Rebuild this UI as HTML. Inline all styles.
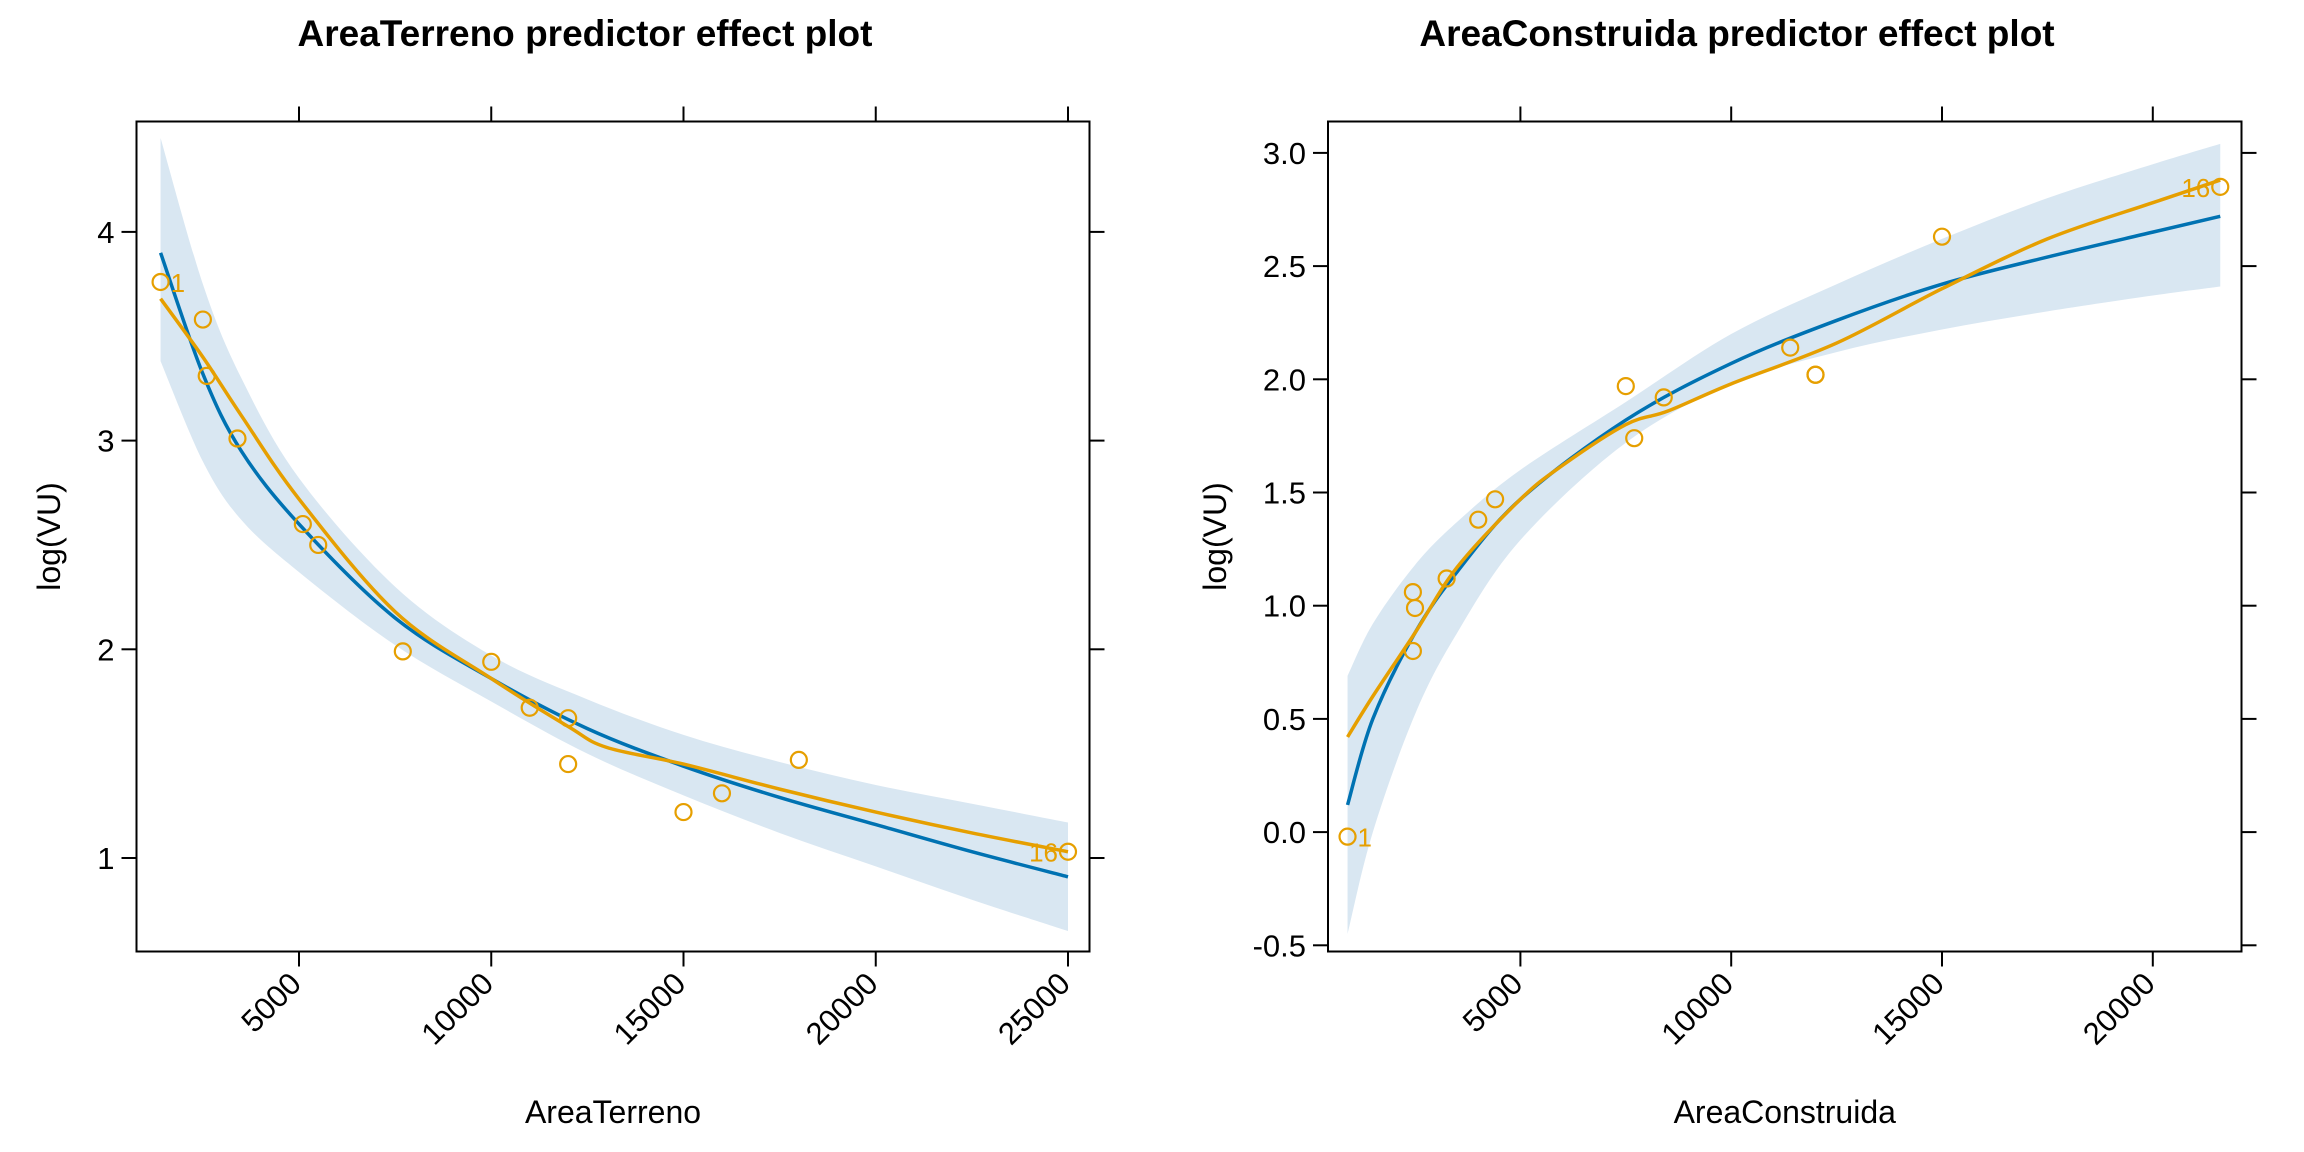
<!DOCTYPE html>
<html><head><meta charset="utf-8"><style>
html,body{margin:0;padding:0;background:#fff;}
svg{display:block;font-family:"Liberation Sans",Arial,sans-serif;}
</style></head><body>
<svg id="chart" width="2304" height="1152" viewBox="0 0 2304 1152"></svg>
<script>
// ---- Panel 1 data: AreaTerreno ----
const terrenoX = [1400,2500,3500,5000,7500,10000,12500,15000,17500,20000,22500,25000];
const terrenoFit = [3.9,3.32,2.95,2.6,2.15,1.86,1.62,1.44,1.29,1.16,1.03,0.91];
const terrenoUpper = [4.45,3.75,3.3,2.82,2.3,1.97,1.76,1.59,1.46,1.35,1.26,1.17];
const terrenoLower = [3.38,2.9,2.62,2.37,2.02,1.75,1.5,1.3,1.12,0.96,0.8,0.65];
const terrenoSmoothX = [1400,2500,3500,5000,7500,10000,12000,13000,15000,17500,20000,22500,25000];
const terrenoSmoothY = [3.68,3.4,3.12,2.72,2.18,1.86,1.63,1.53,1.45,1.33,1.22,1.12,1.03];
const terrenoPtsX = [1400,2500,2600,3400,5100,5500,7700,10000,11000,12000,12000,15000,16000,18000,25000];
const terrenoPtsY = [3.76,3.58,3.31,3.01,2.6,2.5,1.99,1.94,1.72,1.67,1.45,1.22,1.31,1.47,1.03];
const terrenoXTicks = [5000,10000,15000,20000,25000];
const terrenoYTicks = [1,2,3,4];
const terrenoYTickLabels = ["1","2","3","4"];
// ---- Panel 2 data: AreaConstruida ----
const construidaX = [900,1500,2500,3500,5000,7500,10000,12500,15000,17500,20000,21600];
const construidaFit = [0.12,0.5,0.88,1.15,1.47,1.82,2.07,2.26,2.42,2.54,2.65,2.72];
const construidaUpper = [0.69,0.92,1.18,1.37,1.6,1.9,2.2,2.42,2.62,2.8,2.95,3.04];
const construidaLower = [-0.45,0.0,0.52,0.88,1.29,1.72,1.98,2.12,2.22,2.3,2.37,2.41];
const construidaSmoothX = [900,1500,2500,3500,5000,6000,7500,8500,10000,12500,15000,17500,20000,21600];
const construidaSmoothY = [0.42,0.6,0.88,1.17,1.47,1.62,1.8,1.86,1.98,2.16,2.4,2.62,2.78,2.88];
const construidaPtsX = [900,2450,2500,2450,3250,4000,4400,7500,7700,8400,11400,12000,12000,15000,21600];
const construidaPtsY = [-0.02,1.06,0.99,0.8,1.12,1.38,1.47,1.97,1.74,1.92,2.14,2.02,2.02,2.63,2.85];
const construidaXTicks = [5000,10000,15000,20000];
const construidaYTicks = [-0.5,0,0.5,1,1.5,2,2.5,3];
const construidaYTickLabels = ["-0.5","0.0","0.5","1.0","1.5","2.0","2.5","3.0"];

const NS = "http://www.w3.org/2000/svg";
const svg = document.getElementById("chart");
function el(tag, attrs, parent){const e=document.createElementNS(NS,tag);for(const k in attrs)e.setAttribute(k,attrs[k]);(parent||svg).appendChild(e);return e;}
// Catmull-Rom smoothing through screen points
function smoothPath(pts, move){
  let d = (move?"M":"L")+pts[0][0]+","+pts[0][1];
  for(let i=0;i<pts.length-1;i++){
    const p0=pts[Math.max(0,i-1)],p1=pts[i],p2=pts[i+1],p3=pts[Math.min(pts.length-1,i+2)];
    const c1=[p1[0]+(p2[0]-p0[0])/6,p1[1]+(p2[1]-p0[1])/6];
    const c2=[p2[0]-(p3[0]-p1[0])/6,p2[1]-(p3[1]-p1[1])/6];
    d+="C"+c1[0]+","+c1[1]+" "+c2[0]+","+c2[1]+" "+p2[0]+","+p2[1];
  }
  return d;
}

function panel(cfg){
  const g = el("g",{});
  
  
  const sx = v => cfg.x0 + (v - cfg.xa) * cfg.xs;
  const sy = v => cfg.y0 - (v - cfg.ya) * cfg.ys;
  const up = cfg.bx.map((x,i)=>[sx(x),sy(cfg.up[i])]);
  const lo = cfg.bx.map((x,i)=>[sx(x),sy(cfg.lo[i])]).reverse();
  const band = el("path",{d:smoothPath(up,true)+smoothPath(lo,false)+"Z",fill:"#D9E7F2",stroke:"none"},g);
  
  
  const fit = el("path",{d:smoothPath(cfg.bx.map((x,i)=>[sx(x),sy(cfg.fit[i])]),true),fill:"none",stroke:"#0072B2","stroke-width":3.5},g);
  
  
  const sm = el("path",{d:smoothPath(cfg.smx.map((x,i)=>[sx(x),sy(cfg.smy[i])]),true),fill:"none",stroke:"#E69F00","stroke-width":3.5},g);
  
  
  cfg.px.forEach((x,i)=>{
    const c = el("circle",{cx:sx(x),cy:sy(cfg.py[i]),r:8,fill:"none",stroke:"#E69F00","stroke-width":2.2},g);
    
    
  });
  cfg.labels.forEach(l=>{
    const t = el("text",{x:sx(cfg.px[l.i])+l.dx,y:sy(cfg.py[l.i])+10,fill:"#E69F00","font-size":26,"text-anchor":l.anchor},g);
    t.textContent = l.text;
    
    
  });
  const fr = el("rect",{x:cfg.L,y:cfg.T,width:cfg.R-cfg.L,height:cfg.B-cfg.T,fill:"none",stroke:"#000","stroke-width":2},g);
  
  
  cfg.xt.forEach(v=>{
    const x=sx(v);
    el("line",{x1:x,x2:x,y1:cfg.T,y2:cfg.T-15,stroke:"#000","stroke-width":2},g);
    el("line",{x1:x,x2:x,y1:cfg.B,y2:cfg.B+15,stroke:"#000","stroke-width":2},g);
    const t=el("text",{x:0,y:0,"font-size":31,"text-anchor":"end",transform:`translate(${x+4},${cfg.B+34}) rotate(-45)`},g);
    t.textContent=String(v);
    
    
  });
  cfg.yt.forEach((v,i)=>{
    const y=sy(v);
    el("line",{x1:cfg.L,x2:cfg.L-15,y1:y,y2:y,stroke:"#000","stroke-width":2},g);
    el("line",{x1:cfg.R,x2:cfg.R+15,y1:y,y2:y,stroke:"#000","stroke-width":2},g);
    const t=el("text",{x:cfg.L-22,y:y+11,"font-size":31,"text-anchor":"end"},g);
    t.textContent=cfg.ytl[i];
    
    
  });
  const tt=el("text",{x:cfg.titleX,y:46,"font-size":37,"font-weight":"bold","text-anchor":"middle"},g);
  tt.textContent=cfg.title;
  
  
  const xl=el("text",{x:(cfg.L+cfg.R)/2,y:1123,"font-size":32,"text-anchor":"middle"},g);
  xl.textContent=cfg.xlab;
  
  
  const yl=el("text",{x:0,y:0,"font-size":32,"text-anchor":"middle",transform:`translate(${cfg.ylx},${(cfg.T+cfg.B)/2}) rotate(-90)`},g);
  yl.textContent="log(VU)";
  
  
}

panel({name:"areaterreno-panel",L:136.5,R:1089.5,T:121.5,B:951.5,
  xa:5000,x0:299,xs:192.25/5000,ya:1,y0:858,ys:208.7,
  bx:terrenoX,fit:terrenoFit,up:terrenoUpper,lo:terrenoLower,smx:terrenoSmoothX,smy:terrenoSmoothY,
  px:terrenoPtsX,py:terrenoPtsY,xt:terrenoXTicks,yt:terrenoYTicks,ytl:terrenoYTickLabels,
  labels:[{i:0,dx:10,anchor:"start",text:"1"},{i:14,dx:-10,anchor:"end",text:"16"}],
  title:"AreaTerreno predictor effect plot",titleX:585,xlab:"AreaTerreno",ylx:60});
panel({name:"areaconstruida-panel",L:1328,R:2241.5,T:121.5,B:951.5,
  xa:5000,x0:1520.4,xs:210.8/5000,ya:3,y0:152.9,ys:226.4,
  bx:construidaX,fit:construidaFit,up:construidaUpper,lo:construidaLower,smx:construidaSmoothX,smy:construidaSmoothY,
  px:construidaPtsX,py:construidaPtsY,xt:construidaXTicks,yt:construidaYTicks,ytl:construidaYTickLabels,
  labels:[{i:0,dx:10,anchor:"start",text:"1"},{i:14,dx:-10,anchor:"end",text:"16"}],
  title:"AreaConstruida predictor effect plot",titleX:1737,xlab:"AreaConstruida",ylx:1226});
</script>
</body></html>
